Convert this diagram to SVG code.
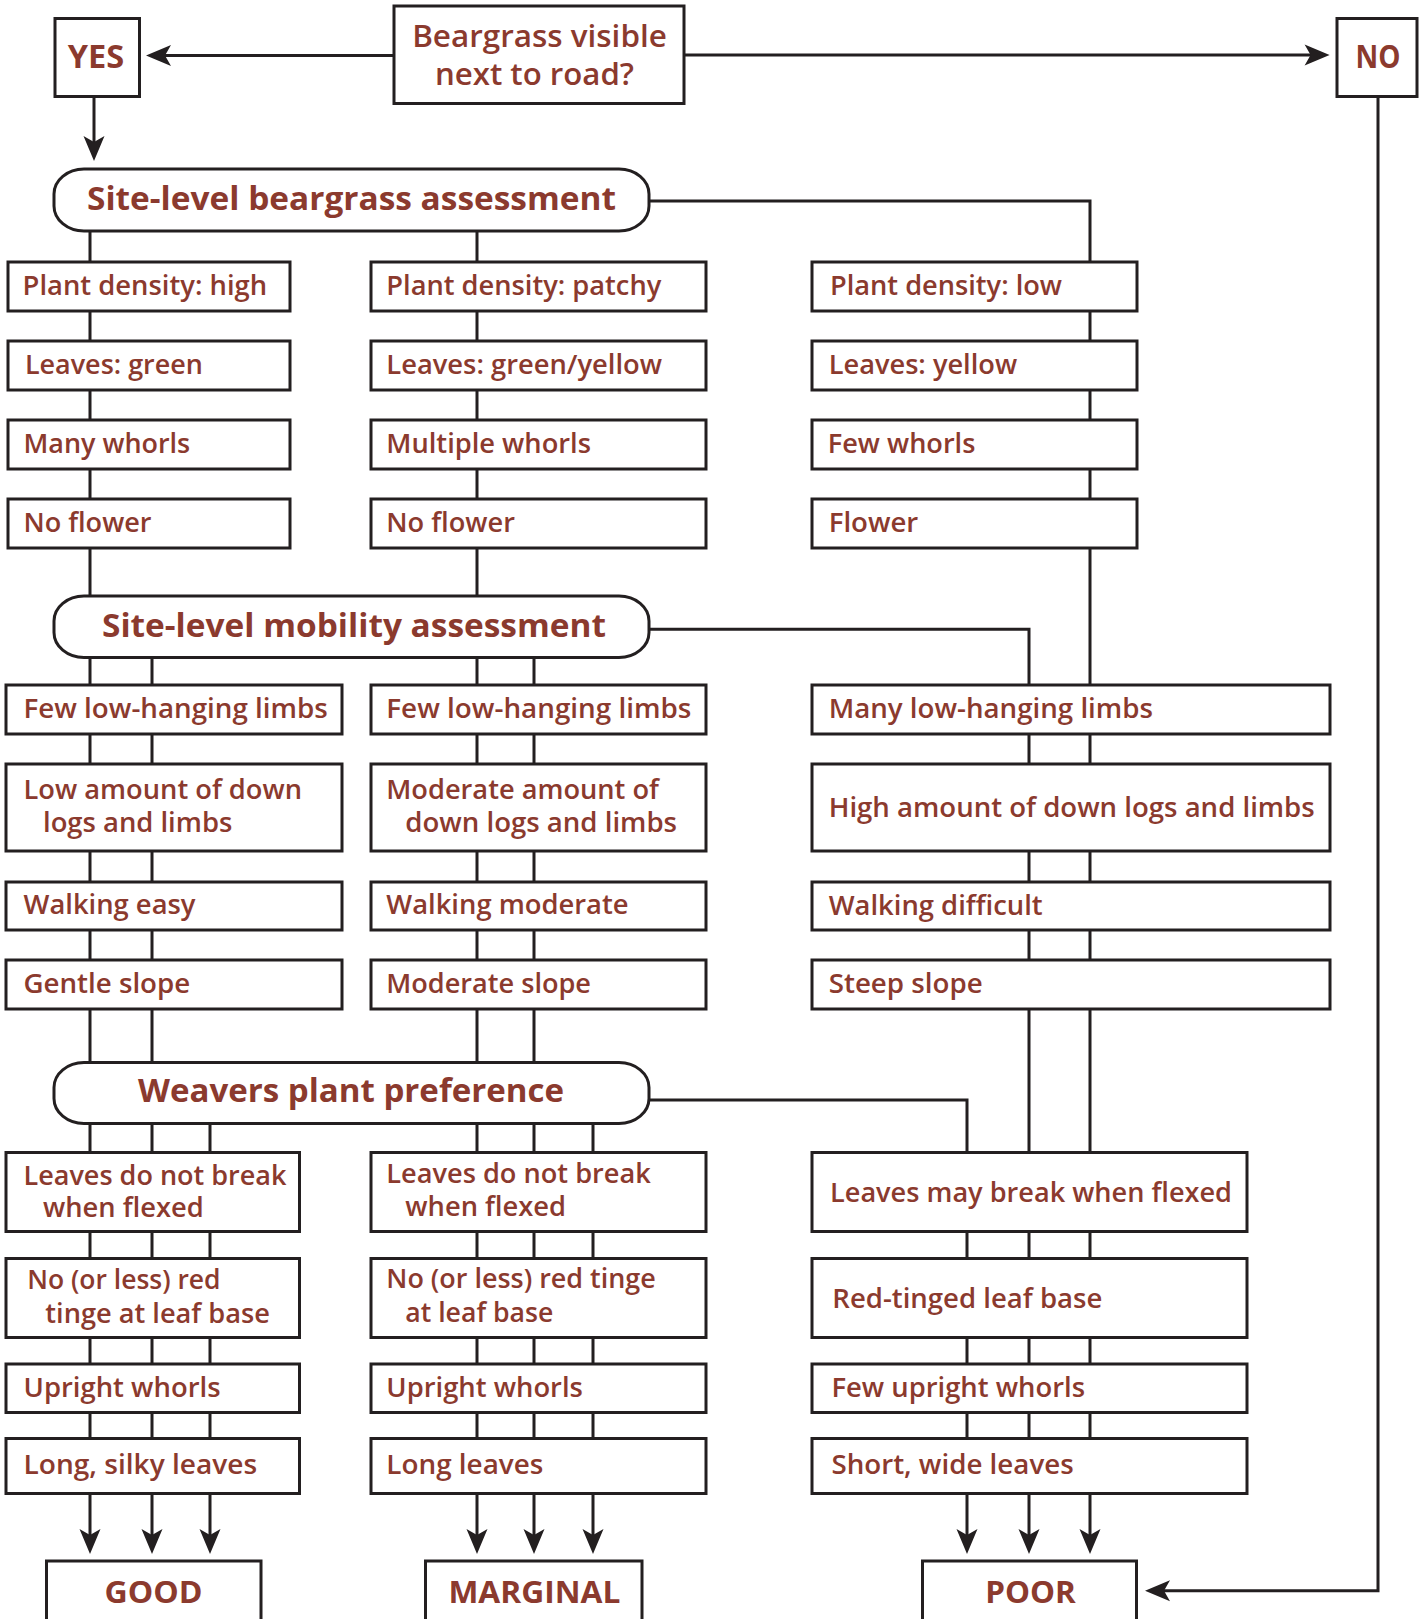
<svg xmlns="http://www.w3.org/2000/svg" width="1420" height="1619" viewBox="0 0 1420 1619">
<style>
.box{fill:#fff;stroke:#231f20;stroke-width:3}
.ln{fill:none;stroke:#231f20;stroke-width:3}
.t{font-family:"Open Sans","Liberation Sans",sans-serif;font-weight:600;font-size:26.5px;fill:#8b3a2e}
.h{font-weight:700;font-size:32.6px}
.q{font-size:30.4px}
.o{font-weight:700;font-size:30.4px}
.c{text-anchor:middle}
</style>
<defs>
<marker id="ah" markerUnits="userSpaceOnUse" viewBox="-20 -12 30 24" refX="0" refY="0" markerWidth="30" markerHeight="24" orient="auto">
<path d="M8,0 L-17,-10.5 L-11,0 L-17,10.5 Z" fill="#231f20"/>
</marker>
</defs>
<rect width="1420" height="1619" fill="#fff"/>
<g id="connectors">
<path class="ln" d="M394,55.5 H154" marker-end="url(#ah)"/>
<path class="ln" d="M684,55 H1321.6" marker-end="url(#ah)"/>
<path class="ln" d="M94,97 V153" marker-end="url(#ah)"/>
<path class="ln" d="M1378,97 V1590.7 H1153" marker-end="url(#ah)"/>
<path class="ln" d="M649,201 H1090 V1546" marker-end="url(#ah)"/>
<path class="ln" d="M649,629.3 H1029 V1546" marker-end="url(#ah)"/>
<path class="ln" d="M649,1100 H967 V1546" marker-end="url(#ah)"/>
<path class="ln" d="M90,200 V1546" marker-end="url(#ah)"/>
<path class="ln" d="M477,200 V1546" marker-end="url(#ah)"/>
<path class="ln" d="M152,630 V1546" marker-end="url(#ah)"/>
<path class="ln" d="M534,630 V1546" marker-end="url(#ah)"/>
<path class="ln" d="M210,1095 V1546" marker-end="url(#ah)"/>
<path class="ln" d="M593,1095 V1546" marker-end="url(#ah)"/>
</g>
<g id="n-question"><rect class="box" x="394" y="6" width="290" height="97.5"/><text class="t q c" x="539.5" y="46.7" textLength="254.7" lengthAdjust="spacingAndGlyphs">Beargrass visible</text><text class="t q c" x="534.5" y="85" textLength="199" lengthAdjust="spacingAndGlyphs">next to road?</text></g>
<g id="n-yes"><rect class="box" x="55" y="18.5" width="84.5" height="78"/><text class="t h c" x="96" y="67.7" textLength="56.5" lengthAdjust="spacingAndGlyphs">YES</text></g>
<g id="n-no"><rect class="box" x="1337" y="18.5" width="80" height="78"/><text class="t h c" x="1378" y="67.7" textLength="45" lengthAdjust="spacingAndGlyphs">NO</text></g>

<g id="n-beargrass"><rect class="box" x="54" y="169" width="595" height="62" rx="30" ry="25"/><text class="t h c" x="351.5" y="210" textLength="529" lengthAdjust="spacingAndGlyphs">Site-level beargrass assessment</text></g>

<g id="n-density-high"><rect class="box" x="8" y="262" width="282" height="49"/><text class="t" x="22.6" y="295" textLength="244.5" lengthAdjust="spacingAndGlyphs">Plant density: high</text></g>
<g id="n-leaves-green"><rect class="box" x="8" y="341" width="282" height="49"/><text class="t" x="24.9" y="374.3" textLength="178" lengthAdjust="spacingAndGlyphs">Leaves: green</text></g>
<g id="n-many-whorls"><rect class="box" x="8" y="420" width="282" height="49"/><text class="t" x="23.5" y="453.3" textLength="166.7" lengthAdjust="spacingAndGlyphs">Many whorls</text></g>
<g id="n-noflower-l"><rect class="box" x="8" y="499" width="282" height="49"/><text class="t" x="23.5" y="532.3" textLength="128" lengthAdjust="spacingAndGlyphs">No flower</text></g>

<g id="n-density-patchy"><rect class="box" x="371" y="262" width="335" height="49"/><text class="t" x="386.3" y="295" textLength="275" lengthAdjust="spacingAndGlyphs">Plant density: patchy</text></g>
<g id="n-leaves-gy"><rect class="box" x="371" y="341" width="335" height="49"/><text class="t" x="386.3" y="374.3" textLength="275.8" lengthAdjust="spacingAndGlyphs">Leaves: green/yellow</text></g>
<g id="n-multiple-whorls"><rect class="box" x="371" y="420" width="335" height="49"/><text class="t" x="386.3" y="453.3" textLength="204.7" lengthAdjust="spacingAndGlyphs">Multiple whorls</text></g>
<g id="n-noflower-m"><rect class="box" x="371" y="499" width="335" height="49"/><text class="t" x="386.3" y="532.3" textLength="128.6" lengthAdjust="spacingAndGlyphs">No flower</text></g>

<g id="n-density-low"><rect class="box" x="812" y="262" width="325" height="49"/><text class="t" x="830" y="295" textLength="232" lengthAdjust="spacingAndGlyphs">Plant density: low</text></g>
<g id="n-leaves-yellow"><rect class="box" x="812" y="341" width="325" height="49"/><text class="t" x="828.7" y="374.3" textLength="188.4" lengthAdjust="spacingAndGlyphs">Leaves: yellow</text></g>
<g id="n-few-whorls"><rect class="box" x="812" y="420" width="325" height="49"/><text class="t" x="827.8" y="453.3" textLength="147.6" lengthAdjust="spacingAndGlyphs">Few whorls</text></g>
<g id="n-flower"><rect class="box" x="812" y="499" width="325" height="49"/><text class="t" x="828.7" y="532.3" textLength="89.6" lengthAdjust="spacingAndGlyphs">Flower</text></g>

<g id="n-mobility"><rect class="box" x="54" y="596" width="595" height="61.5" rx="30" ry="25"/><text class="t h c" x="354" y="636.7" textLength="504" lengthAdjust="spacingAndGlyphs">Site-level mobility assessment</text></g>

<g id="n-fewlimbs-l"><rect class="box" x="6" y="685" width="336" height="49"/><text class="t" x="23.5" y="718.3" textLength="304.3" lengthAdjust="spacingAndGlyphs">Few low-hanging limbs</text></g>
<g id="n-lowlogs"><rect class="box" x="6" y="764" width="336" height="87"/><text class="t" x="23.5" y="799.3" textLength="278.5" lengthAdjust="spacingAndGlyphs">Low amount of down</text><text class="t" x="43" y="831.7" textLength="189.3" lengthAdjust="spacingAndGlyphs">logs and limbs</text></g>
<g id="n-walk-easy"><rect class="box" x="6" y="882" width="336" height="48"/><text class="t" x="23.5" y="914.3" textLength="172" lengthAdjust="spacingAndGlyphs">Walking easy</text></g>
<g id="n-gentle"><rect class="box" x="6" y="960" width="336" height="49"/><text class="t" x="23.5" y="993.3" textLength="166.7" lengthAdjust="spacingAndGlyphs">Gentle slope</text></g>

<g id="n-fewlimbs-m"><rect class="box" x="371" y="685" width="335" height="49"/><text class="t" x="386.3" y="718.3" textLength="305" lengthAdjust="spacingAndGlyphs">Few low-hanging limbs</text></g>
<g id="n-modlogs"><rect class="box" x="371" y="764" width="335" height="87"/><text class="t" x="386.3" y="799.3" textLength="272.6" lengthAdjust="spacingAndGlyphs">Moderate amount of</text><text class="t" x="405.3" y="831.7" textLength="271.7" lengthAdjust="spacingAndGlyphs">down logs and limbs</text></g>
<g id="n-walk-mod"><rect class="box" x="371" y="882" width="335" height="48"/><text class="t" x="386.3" y="914.3" textLength="242.3" lengthAdjust="spacingAndGlyphs">Walking moderate</text></g>
<g id="n-modslope"><rect class="box" x="371" y="960" width="335" height="49"/><text class="t" x="386.3" y="993.3" textLength="204.7" lengthAdjust="spacingAndGlyphs">Moderate slope</text></g>

<g id="n-manylimbs"><rect class="box" x="812" y="685" width="518" height="49"/><text class="t" x="828.7" y="718.3" textLength="324.3" lengthAdjust="spacingAndGlyphs">Many low-hanging limbs</text></g>
<g id="n-highlogs"><rect class="box" x="812" y="764" width="518" height="87"/><text class="t" x="828.7" y="817" textLength="486" lengthAdjust="spacingAndGlyphs">High amount of down logs and limbs</text></g>
<g id="n-walk-diff"><rect class="box" x="812" y="882" width="518" height="48"/><text class="t" x="828.7" y="914.8" textLength="214" lengthAdjust="spacingAndGlyphs">Walking difficult</text></g>
<g id="n-steep"><rect class="box" x="812" y="960" width="518" height="49"/><text class="t" x="828.7" y="993.3" textLength="154" lengthAdjust="spacingAndGlyphs">Steep slope</text></g>

<g id="n-weavers"><rect class="box" x="54" y="1062.5" width="595" height="61" rx="30" ry="25"/><text class="t h c" x="351" y="1102.3" textLength="426" lengthAdjust="spacingAndGlyphs">Weavers plant preference</text></g>

<g id="n-nobreak-l"><rect class="box" x="6" y="1152.5" width="293.5" height="79"/><text class="t" x="23.5" y="1184.5" textLength="263" lengthAdjust="spacingAndGlyphs">Leaves do not break</text><text class="t" x="43" y="1217" textLength="160.8" lengthAdjust="spacingAndGlyphs">when flexed</text></g>
<g id="n-nored-l"><rect class="box" x="6" y="1258.5" width="293.5" height="79"/><text class="t" x="27.2" y="1289.3" textLength="193.4" lengthAdjust="spacingAndGlyphs">No (or less) red</text><text class="t" x="45.3" y="1322.7" textLength="224.6" lengthAdjust="spacingAndGlyphs">tinge at leaf base</text></g>
<g id="n-upright-l"><rect class="box" x="6" y="1364" width="293.5" height="48.5"/><text class="t" x="23.5" y="1397" textLength="197" lengthAdjust="spacingAndGlyphs">Upright whorls</text></g>
<g id="n-silky"><rect class="box" x="6" y="1438.5" width="293.5" height="55"/><text class="t" x="23.5" y="1474.3" textLength="233.7" lengthAdjust="spacingAndGlyphs">Long, silky leaves</text></g>

<g id="n-nobreak-m"><rect class="box" x="371" y="1152.5" width="335" height="79"/><text class="t" x="386.3" y="1183.3" textLength="264.5" lengthAdjust="spacingAndGlyphs">Leaves do not break</text><text class="t" x="405.3" y="1215.7" textLength="160.8" lengthAdjust="spacingAndGlyphs">when flexed</text></g>
<g id="n-nored-m"><rect class="box" x="371" y="1258.5" width="335" height="79"/><text class="t" x="386.3" y="1288.3" textLength="269.5" lengthAdjust="spacingAndGlyphs">No (or less) red tinge</text><text class="t" x="405.3" y="1321.7" textLength="148" lengthAdjust="spacingAndGlyphs">at leaf base</text></g>
<g id="n-upright-m"><rect class="box" x="371" y="1364" width="335" height="48.5"/><text class="t" x="386.3" y="1397" textLength="196.6" lengthAdjust="spacingAndGlyphs">Upright whorls</text></g>
<g id="n-long"><rect class="box" x="371" y="1438.5" width="335" height="55"/><text class="t" x="386.3" y="1474.3" textLength="157" lengthAdjust="spacingAndGlyphs">Long leaves</text></g>

<g id="n-maybreak"><rect class="box" x="812" y="1152.5" width="435" height="79"/><text class="t" x="830" y="1201.7" textLength="402" lengthAdjust="spacingAndGlyphs">Leaves may break when flexed</text></g>
<g id="n-redtinged"><rect class="box" x="812" y="1258.5" width="435" height="79"/><text class="t" x="832.3" y="1308.3" textLength="270" lengthAdjust="spacingAndGlyphs">Red-tinged leaf base</text></g>
<g id="n-fewupright"><rect class="box" x="812" y="1364" width="435" height="48.5"/><text class="t" x="831.4" y="1397" textLength="253.6" lengthAdjust="spacingAndGlyphs">Few upright whorls</text></g>
<g id="n-shortwide"><rect class="box" x="812" y="1438.5" width="435" height="55"/><text class="t" x="831.4" y="1474.3" textLength="242.3" lengthAdjust="spacingAndGlyphs">Short, wide leaves</text></g>

<g id="n-good"><rect class="box" x="46.5" y="1561" width="214.5" height="80"/><text class="t o c" x="153.5" y="1602.7" textLength="98" lengthAdjust="spacingAndGlyphs">GOOD</text></g>
<g id="n-marginal"><rect class="box" x="425.5" y="1561" width="216.5" height="80"/><text class="t o c" x="534.4" y="1602.7" textLength="172" lengthAdjust="spacingAndGlyphs">MARGINAL</text></g>
<g id="n-poor"><rect class="box" x="922.5" y="1561" width="214" height="80"/><text class="t o c" x="1030.5" y="1602.7" textLength="90.6" lengthAdjust="spacingAndGlyphs">POOR</text></g>
</svg>
